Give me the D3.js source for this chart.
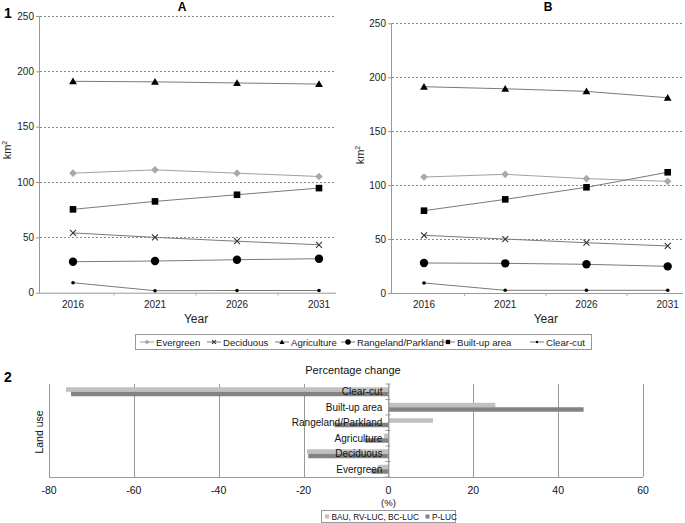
<!DOCTYPE html>
<html><head><meta charset="utf-8">
<script src="https://cdn.jsdelivr.net/npm/d3@7"></script>
<style>
body{margin:0;background:#fff;}
svg, svg text{font-family:"Liberation Sans",Arial,sans-serif;}
</style></head>
<body>
<svg id="c" width="685" height="523"></svg>
<script>
const years = [2016, 2021, 2026, 2031];
const seriesNames = ["Evergreen","Deciduous","Agriculture","Rangeland/Parkland","Built-up area","Clear-cut"];
const yTicks = [0, 50, 100, 150, 200, 250];
// Panel A values (km2)
const A_evergreen = [108, 111, 108, 105];
const A_deciduous = [54, 50, 46.5, 43.3];
const A_agriculture = [191, 190.5, 189.5, 188.5];
const A_rangeland = [28, 28.6, 29.8, 30.7];
const A_builtup = [75.3, 82.5, 88.5, 94.5];
const A_clearcut = [9, 1.8, 2, 2];
// Panel B values (km2)
const B_evergreen = [107.5, 110, 106, 103.5];
const B_deciduous = [53.5, 50, 46.6, 43.6];
const B_agriculture = [191.2, 189.3, 186.9, 181];
const B_rangeland = [27.8, 27.5, 26.6, 24.7];
const B_builtup = [76.3, 86.8, 98, 111.9];
const B_clearcut = [9.3, 2.5, 2.5, 2.5];
// Panel 2: percentage change
const landUse = ["Clear-cut","Built-up area","Rangeland/Parkland","Agriculture","Deciduous","Evergreen"];
const pctBAU = [-76, 25.2, 10.5, -1, -19.2, -2.5];
const pctPLUC = [-74.8, 46, -12.7, -5.5, -18.9, -4];
const pctTicks = [-80, -60, -40, -20, 0, 20, 40, 60];
const barSeries = ["BAU, RV-LUC, BC-LUC", "P-LUC"];

const svg = d3.select("#c");
const FF = "Liberation Sans, Arial, sans-serif";
const lineCol = "#7a7a7a";
const styles = {
  "Evergreen": {type:"diamond", line:"#a0a0a0"},
  "Deciduous": {type:"x", line:lineCol},
  "Agriculture": {type:"triangle", line:lineCol},
  "Rangeland/Parkland": {type:"circle", line:lineCol},
  "Built-up area": {type:"square", line:lineCol},
  "Clear-cut": {type:"dot", line:lineCol}
};
function drawMarker(g, type, x, y, s) {
  if (type === "diamond") g.append("path").attr("d", `M${x},${y-3.8*s}L${x+3.8*s},${y}L${x},${y+3.8*s}L${x-3.8*s},${y}Z`).attr("fill","#a8a8a8");
  else if (type === "x") g.append("path").attr("d", `M${x-3*s},${y-3*s}L${x+3*s},${y+3*s}M${x-3*s},${y+3*s}L${x+3*s},${y-3*s}`).attr("fill","none").attr("stroke","#333").attr("stroke-width",1.1);
  else if (type === "triangle") g.append("path").attr("d", `M${x},${y-3.8*s}L${x+3.9*s},${y+3*s}L${x-3.9*s},${y+3*s}Z`).attr("fill","#000");
  else if (type === "circle") g.append("circle").attr("cx",x).attr("cy",y).attr("r",4.2*s).attr("fill","#000");
  else if (type === "square") g.append("rect").attr("x",x-3.3*s).attr("y",y-3.3*s).attr("width",6.6*s).attr("height",6.6*s).attr("fill","#000");
  else if (type === "dot") g.append("circle").attr("cx",x).attr("cy",y).attr("r",1.8*s).attr("fill","#000");
}

function linePanel(cfg) {
  const g = svg.append("g");
  const x = d3.scalePoint().domain(years).range([cfg.x0, cfg.x1]);
  const y = d3.scaleLinear().domain([0, 250]).range([cfg.yb, cfg.yt]);
  g.selectAll(".grid").data(yTicks.filter(d=>d>0)).join("line")
    .attr("x1", cfg.ax).attr("x2", cfg.gx).attr("y1", d=>Math.round(y(d))+0.5).attr("y2", d=>Math.round(y(d))+0.5)
    .attr("stroke","#8a8a8a").attr("stroke-dasharray","2,2").attr("stroke-width",1);
  const ya = g.append("g").attr("transform",`translate(${cfg.ax},0)`).call(d3.axisLeft(y).tickValues(yTicks).tickSize(4).tickPadding(2));
  ya.attr("font-family", FF).attr("font-size", 10);
  ya.select(".domain").attr("stroke","#999").attr("d",`M-0.5,${cfg.yb}V${cfg.yt}`);
  ya.selectAll(".tick line").attr("stroke","#999");
  ya.selectAll("text").attr("fill","#222");
  g.append("line").attr("x1",cfg.ax).attr("x2",cfg.gx).attr("y1",cfg.yb+0.5).attr("y2",cfg.yb+0.5).attr("stroke","#999");
  const bounds = years.slice(0,-1).map((d,i)=> (x(d)+x(years[i+1]))/2);
  g.selectAll(".xt").data(bounds).join("line").attr("x1",d=>d).attr("x2",d=>d).attr("y1",cfg.yb).attr("y2",cfg.yb+3).attr("stroke","#aaa");
  g.selectAll(".xl").data(years).join("text").attr("x",d=>x(d)).attr("y",cfg.yb+15)
    .attr("text-anchor","middle").attr("font-size",10).attr("fill","#222").text(d=>d);
  g.append("text").attr("x",(x(years[0])+x(years[3]))/2).attr("y",cfg.yb+30).attr("text-anchor","middle").attr("font-size",12).attr("fill","#222").text("Year");
  const yl = g.append("text").attr("transform",`translate(${cfg.ylx},${cfg.yly}) rotate(-90)`).attr("text-anchor","middle").attr("font-size",11).attr("fill","#222");
  yl.append("tspan").text("km");
  yl.append("tspan").attr("font-size",7).attr("dy",-4).text("2");
  g.append("text").attr("x",cfg.tx).attr("y",cfg.ty).attr("text-anchor","middle").attr("font-size",12).attr("font-weight","bold").text(cfg.title);
  const line = d3.line().x((d,i)=>x(years[i])).y(d=>y(d));
  cfg.data.forEach((vals, k) => {
    const st = styles[seriesNames[k]];
    g.append("path").attr("d", line(vals)).attr("fill","none").attr("stroke",st.line).attr("stroke-width",1);
  });
  cfg.data.forEach((vals, k) => {
    const st = styles[seriesNames[k]];
    vals.forEach((v,i)=> drawMarker(g, st.type, x(years[i]), y(v), 1));
  });
}

linePanel({x0:73, x1:319, ax:40, gx:336, yb:292.7, yt:16, ylx:11, yly:150, tx:182, ty:11, title:"A",
  data:[A_evergreen, A_deciduous, A_agriculture, A_rangeland, A_builtup, A_clearcut]});
linePanel({x0:424, x1:667.7, ax:392, gx:683, yb:293, yt:23.3, ylx:364, yly:155, tx:548, ty:11, title:"B",
  data:[B_evergreen, B_deciduous, B_agriculture, B_rangeland, B_builtup, B_clearcut]});

svg.append("text").attr("x",4).attr("y",18).attr("font-size",14).attr("font-weight","bold").text("1");
svg.append("text").attr("x",4).attr("y",382).attr("font-size",14).attr("font-weight","bold").text("2");

// Legend 1
const lg = svg.append("g");
lg.append("rect").attr("x",135.5).attr("y",334.5).attr("width",456).attr("height",15).attr("fill","#fff").attr("stroke","#999");
const legX = [147, 214, 282, 348, 448, 537];
seriesNames.forEach((n,i)=>{
  const st = styles[n];
  const cx = legX[i];
  lg.append("line").attr("x1",cx-7).attr("x2",cx+7).attr("y1",342).attr("y2",342).attr("stroke", st.line);
  drawMarker(lg, st.type, cx, 342, 0.65);
  lg.append("text").attr("x",cx+9).attr("y",345.5).attr("font-size",9.6).attr("fill","#222").text(n);
});

// Panel 2
const p = svg.append("g");
const xb = d3.scaleLinear().domain([-80, 60]).range([49, 643]);
const yb = d3.scaleBand().domain(landUse).range([384, 477]).paddingInner(0.42).paddingOuter(0.21);
const ysub = d3.scaleBand().domain(barSeries).range([0, yb.bandwidth()]);
p.selectAll(".g2").data(pctTicks).join("line").attr("x1",d=>Math.round(xb(d))+0.5).attr("x2",d=>Math.round(xb(d))+0.5)
  .attr("y1",384).attr("y2",477).attr("stroke","#999");
p.append("line").attr("x1",49).attr("x2",643).attr("y1",477.5).attr("y2",477.5).attr("stroke","#999");
const barCols = ["#c0c0c0", "#828282"];
[pctBAU, pctPLUC].forEach((vals, s) => {
  p.selectAll(".b"+s).data(vals).join("rect")
    .attr("x", d=>xb(Math.min(0,d))).attr("width", d=>Math.abs(xb(d)-xb(0)))
    .attr("y", (d,i)=> yb(landUse[i]) + ysub(barSeries[s])).attr("height", ysub.bandwidth())
    .attr("fill", barCols[s]);
});
const bstep = yb.step();
p.selectAll(".zt").data(d3.range(7)).join("line").attr("x1",xb(0)-3).attr("x2",xb(0)+2)
  .attr("y1",d=>384+d*bstep).attr("y2",d=>384+d*bstep).attr("stroke","#999");
p.append("line").attr("x1",xb(0)+0.5).attr("x2",xb(0)+0.5).attr("y1",384).attr("y2",477).attr("stroke","#999");
p.selectAll(".cl").data(landUse).join("text").attr("x",xb(0)-6).attr("y",d=>yb(d)+yb.bandwidth()/2+3.5)
  .attr("text-anchor","end").attr("font-size",10).attr("fill","#111").text(d=>d);
p.selectAll(".xl").data(pctTicks).join("text").attr("x",d=>xb(d)).attr("y",494)
  .attr("text-anchor","middle").attr("font-size",10.5).attr("fill","#111").text(d=>d);
p.append("text").attr("x",xb(0)).attr("y",506).attr("text-anchor","middle").attr("font-size",9.5).attr("fill","#111").text("(%)");
p.append("text").attr("x",353).attr("y",374).attr("text-anchor","middle").attr("font-size",11).attr("fill","#111").text("Percentage change");
p.append("text").attr("transform","translate(43,432) rotate(-90)").attr("text-anchor","middle").attr("font-size",10.5).attr("fill","#111").text("Land use");
// legend 2
p.append("rect").attr("x",321.5).attr("y",510.5).attr("width",134).attr("height",12).attr("fill","#fff").attr("stroke","#999");
p.append("rect").attr("x",325).attr("y",514.5).attr("width",4).attr("height",4).attr("fill",barCols[0]);
p.append("text").attr("x",331.5).attr("y",519.5).attr("font-size",8.3).attr("fill","#111").text(barSeries[0]);
p.append("rect").attr("x",425.5).attr("y",514.5).attr("width",4).attr("height",4).attr("fill",barCols[1]);
p.append("text").attr("x",432).attr("y",519.5).attr("font-size",8.3).attr("fill","#111").text(barSeries[1]);
</script>
</body></html>
